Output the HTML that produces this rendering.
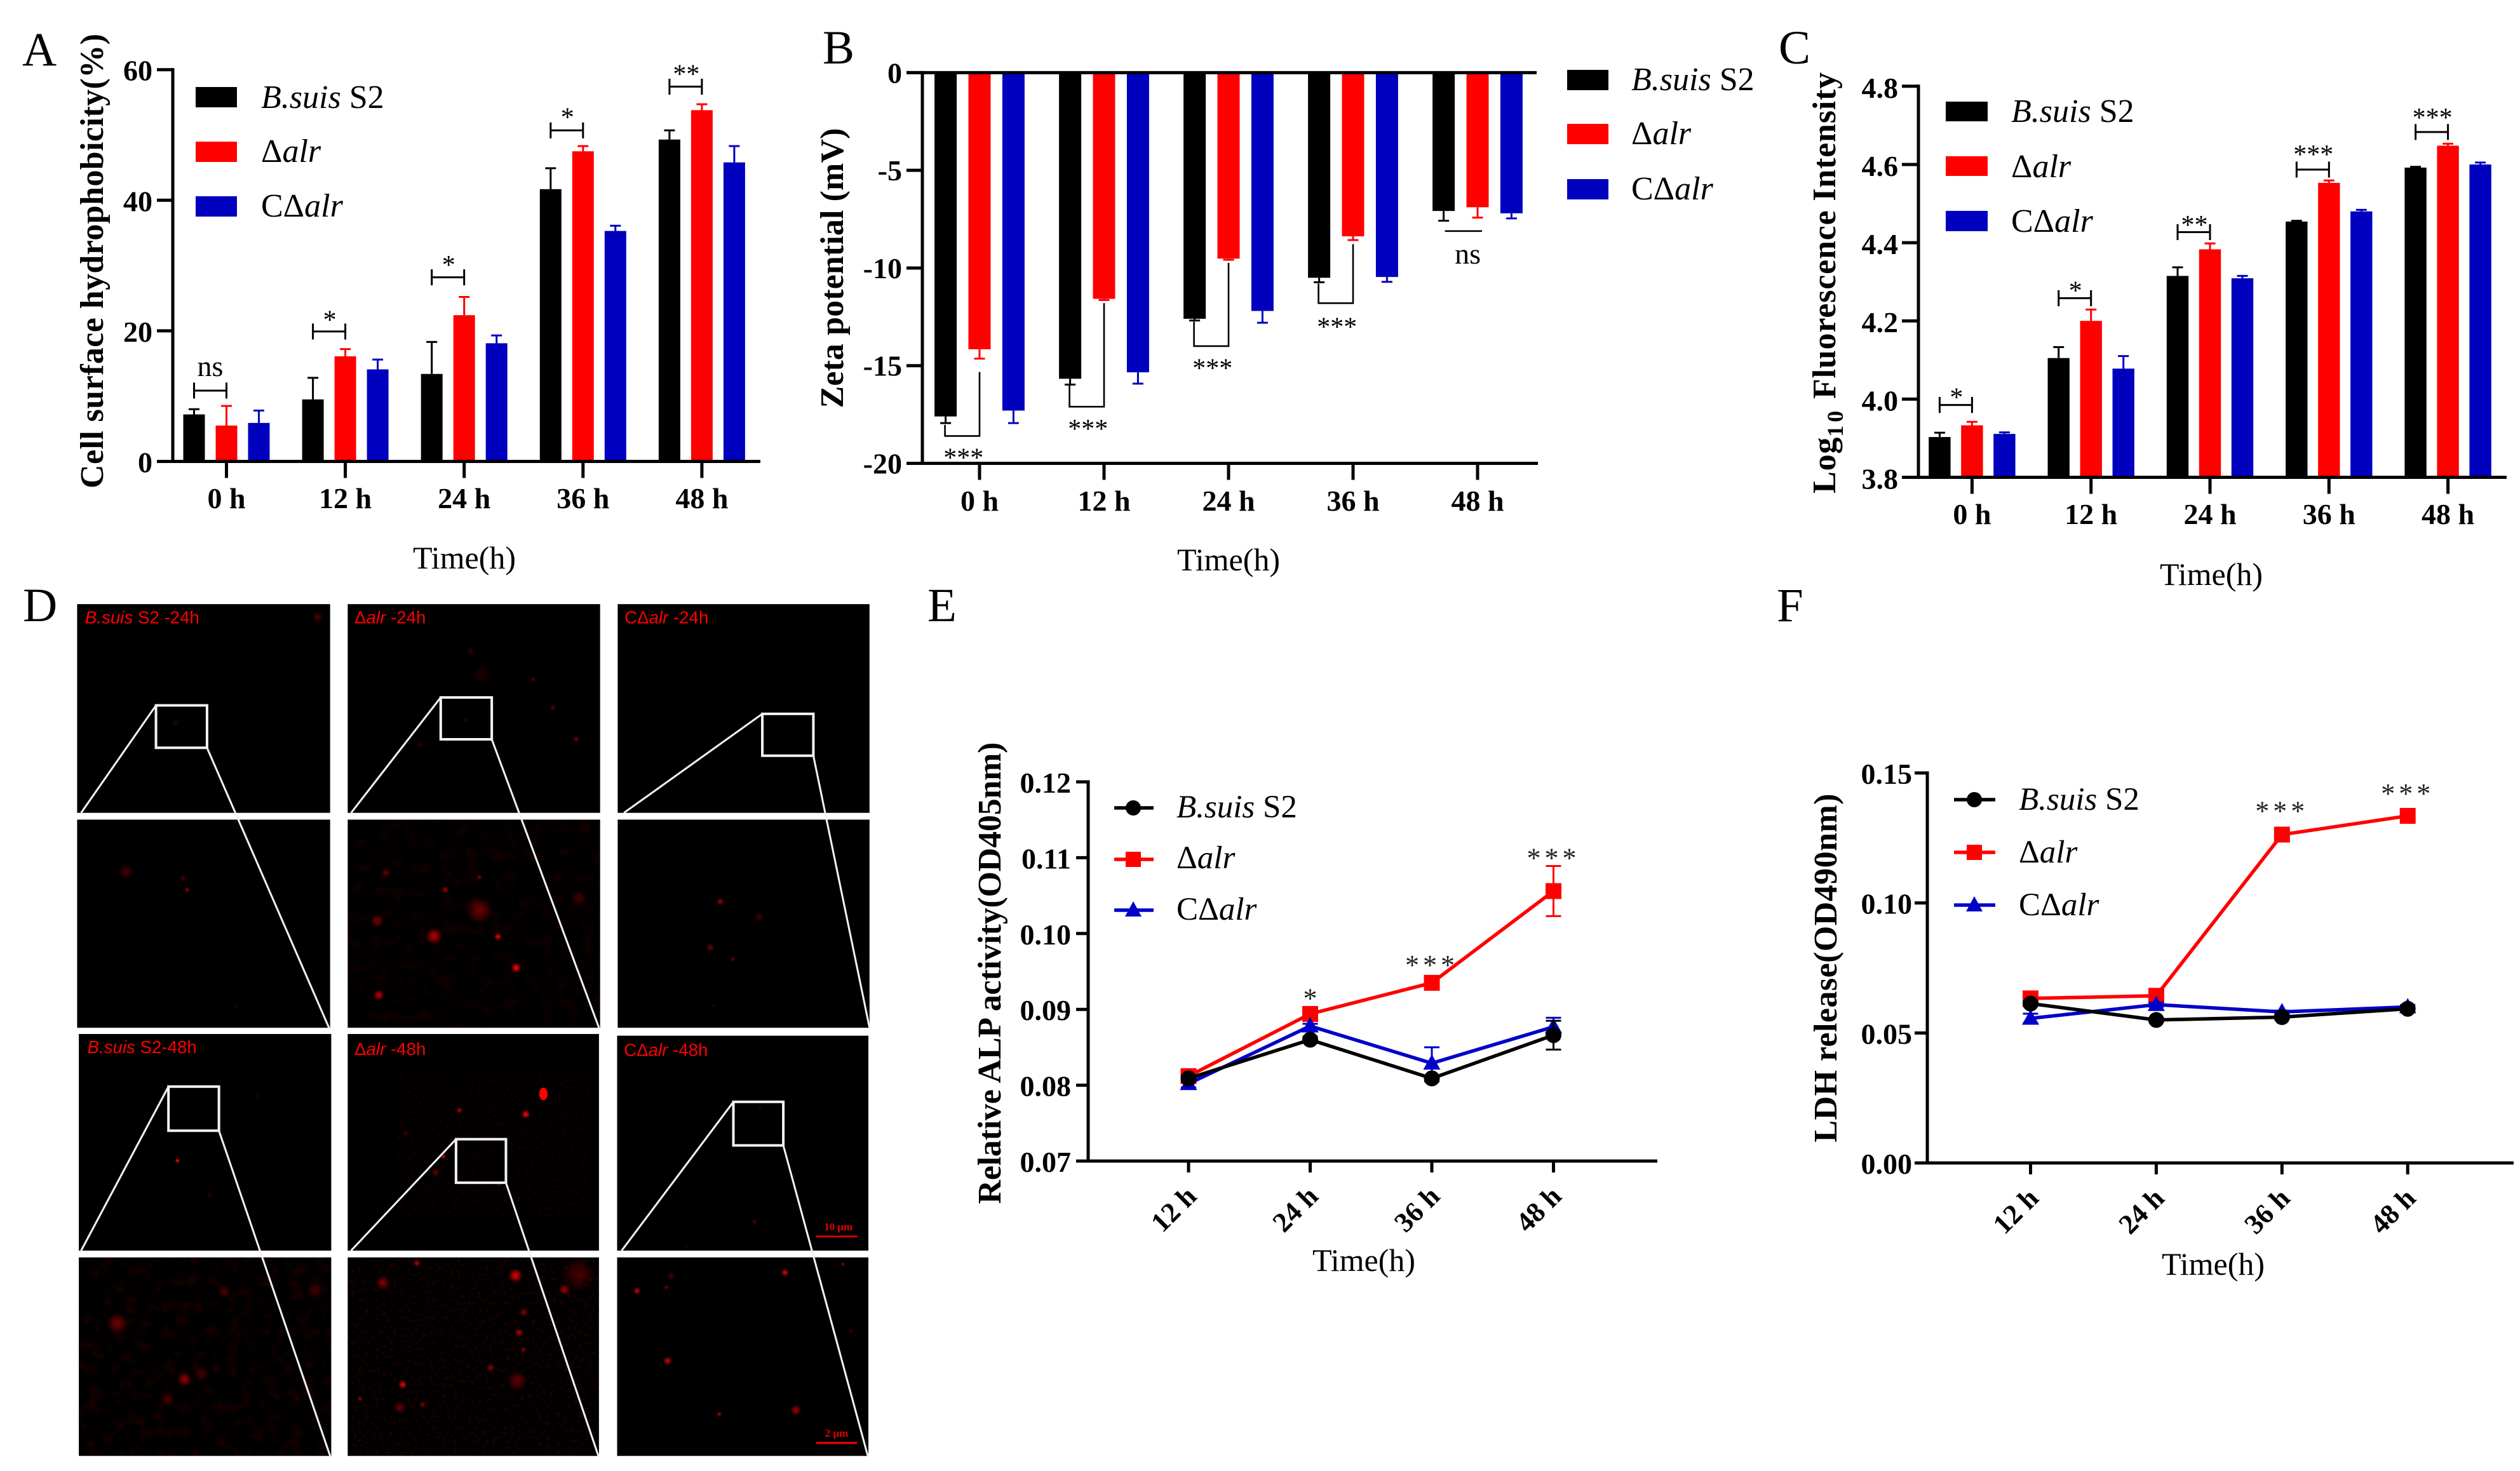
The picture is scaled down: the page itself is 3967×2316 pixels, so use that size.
<!DOCTYPE html>
<html lang="en">
<head>
<meta charset="utf-8">
<title>Multi-panel bacterial surface assays</title>
<style>
html,body{margin:0;padding:0;background:#fff;}
svg{display:block;font-family:"Liberation Serif",serif;}
text{fill:#000;}
.bt{font-weight:bold;}
</style>
</head>
<body>
<svg id="figure" width="3967" height="2316" viewBox="0 0 3967 2316">
<defs>
<radialGradient id="spotGlow">
<stop offset="0" stop-color="#ff0808" stop-opacity="1"/>
<stop offset="0.45" stop-color="#f00000" stop-opacity="0.7"/>
<stop offset="1" stop-color="#d00000" stop-opacity="0"/>
</radialGradient>
<filter id="speckleFine" x="0" y="0" width="100%" height="100%">
<feTurbulence type="fractalNoise" baseFrequency="0.16" numOctaves="2" seed="7"/>
<feColorMatrix type="matrix" values="0 0 0 0 0.85  0 0 0 0 0  0 0 0 0 0  3 0 0 0 -1.5"/>
</filter>
<filter id="speckleSoft" x="0" y="0" width="100%" height="100%">
<feTurbulence type="fractalNoise" baseFrequency="0.045" numOctaves="2" seed="11"/>
<feColorMatrix type="matrix" values="0 0 0 0 0.7  0 0 0 0 0  0 0 0 0 0  3 0 0 0 -1.4"/>
</filter>
</defs>
<rect width="3967" height="2316" fill="#fff"/>

<text x="35" y="103" font-size="75">A</text>
<text x="1295" y="100" font-size="75">B</text>
<text x="2800" y="100" font-size="75">C</text>
<text x="36" y="978" font-size="75">D</text>
<text x="1460" y="978" font-size="75">E</text>
<text x="2797" y="978" font-size="75">F</text>

<text class="bt" font-size="52" text-anchor="middle" textLength="716" transform="translate(162,411) rotate(-90)">Cell surface hydrophobicity(%)</text>
<text font-size="50" text-anchor="middle" x="731" y="895">Time(h)</text>
<text class="bt" font-size="52" text-anchor="middle" textLength="441" transform="translate(1327,422) rotate(-90)">Zeta potential (mV)</text>
<text font-size="50" text-anchor="middle" x="1934" y="898">Time(h)</text>
<text class="bt" font-size="52" text-anchor="middle" letter-spacing="0.8" transform="translate(2889,445) rotate(-90)">Log<tspan font-size="36" dy="12" letter-spacing="5">10</tspan><tspan dy="-12"> Fluorescence Intensity</tspan></text>
<text font-size="50" text-anchor="middle" x="3481" y="921">Time(h)</text>
<text class="bt" font-size="52" text-anchor="middle" textLength="727" transform="translate(1575,1532) rotate(-90)">Relative ALP activity(OD405nm)</text>
<text font-size="50" text-anchor="middle" x="2147" y="2001">Time(h)</text>
<text class="bt" font-size="52" text-anchor="middle" textLength="549" transform="translate(2891,1524) rotate(-90)">LDH release(OD490nm)</text>
<text font-size="50" text-anchor="middle" x="3484" y="2007">Time(h)</text>

<g font-size="52">
<rect x="308" y="137" width="65" height="32" fill="#000"/>
<rect x="308" y="223" width="65" height="32" fill="#f00"/>
<rect x="308" y="309" width="65" height="32" fill="#0000bf"/>
<text x="411" y="170"><tspan font-style="italic">B.suis</tspan> S2</text>
<text x="411" y="255">Δ<tspan font-style="italic">alr</tspan></text>
<text x="411" y="341">CΔ<tspan font-style="italic">alr</tspan></text>
</g>
<g font-size="52">
<rect x="2467" y="110" width="65" height="32" fill="#000"/>
<rect x="2467" y="195" width="65" height="32" fill="#f00"/>
<rect x="2467" y="282" width="65" height="32" fill="#0000bf"/>
<text x="2568" y="142"><tspan font-style="italic">B.suis</tspan> S2</text>
<text x="2568" y="227">Δ<tspan font-style="italic">alr</tspan></text>
<text x="2568" y="314">CΔ<tspan font-style="italic">alr</tspan></text>
</g>
<g font-size="52">
<rect x="3063" y="160" width="66" height="31" fill="#000"/>
<rect x="3063" y="246" width="66" height="31" fill="#f00"/>
<rect x="3063" y="332" width="66" height="32" fill="#0000bf"/>
<text x="3166" y="192"><tspan font-style="italic">B.suis</tspan> S2</text>
<text x="3166" y="279">Δ<tspan font-style="italic">alr</tspan></text>
<text x="3166" y="365">CΔ<tspan font-style="italic">alr</tspan></text>
</g>
<g font-size="51" stroke-width="5.5">
<line x1="1754" x2="1816" y1="1272" y2="1272" stroke="#000"/>
<circle cx="1784" cy="1272" r="12" fill="#000"/>
<line x1="1754" x2="1816" y1="1353" y2="1353" stroke="#f00"/>
<rect x="1772" y="1341" width="24" height="24" fill="#f00"/>
<line x1="1754" x2="1816" y1="1433" y2="1433" stroke="#0000c8"/>
<polygon points="1784,1419 1797,1443 1771,1443" fill="#0000c8"/>
<text x="1852" y="1287"><tspan font-style="italic">B.suis</tspan> S2</text>
<text x="1852" y="1367">Δ<tspan font-style="italic">alr</tspan></text>
<text x="1852" y="1448">CΔ<tspan font-style="italic">alr</tspan></text>
</g>
<g font-size="51" stroke-width="5.5">
<line x1="3076" x2="3141" y1="1259" y2="1259" stroke="#000"/>
<circle cx="3108" cy="1259" r="12" fill="#000"/>
<line x1="3076" x2="3141" y1="1342" y2="1342" stroke="#f00"/>
<rect x="3096" y="1330" width="24" height="24" fill="#f00"/>
<line x1="3076" x2="3141" y1="1425" y2="1425" stroke="#0000c8"/>
<polygon points="3108,1411 3121,1435 3095,1435" fill="#0000c8"/>
<text x="3178" y="1275"><tspan font-style="italic">B.suis</tspan> S2</text>
<text x="3178" y="1358">Δ<tspan font-style="italic">alr</tspan></text>
<text x="3178" y="1441">CΔ<tspan font-style="italic">alr</tspan></text>
</g>

<!-- Panel D drawn in a local coordinate frame -->
<g id="micrographs" transform="translate(0,920) scale(0.8929,0.8905)">
<rect x="136" y="35" width="446" height="369"/>
<rect x="613" y="35" width="445" height="369"/>
<rect x="1089" y="35" width="444" height="369"/>
<rect x="136" y="416" width="446" height="368"/>
<rect x="613" y="416" width="445" height="368"/>
<rect x="1089" y="416" width="444" height="368"/>
<rect x="139" y="795" width="445" height="383"/>
<rect x="613" y="795" width="443" height="383"/>
<rect x="1088" y="798" width="443" height="380"/>
<rect x="139" y="1190" width="445" height="351"/>
<rect x="613" y="1190" width="443" height="351"/>
<rect x="1088" y="1190" width="443" height="351"/>
<g>
<rect x="613" y="416" width="445" height="368" filter="url(#speckleSoft)" opacity="0.07"/>
<rect x="139" y="1190" width="445" height="351" filter="url(#speckleSoft)" opacity="0.1"/>
<rect x="613" y="1190" width="443" height="351" filter="url(#speckleFine)" opacity="0.14"/>
<rect x="700" y="860" width="340" height="260" filter="url(#speckleFine)" opacity="0.09"/>
</g>
<g id="spots" fill="url(#spotGlow)"></g>
<ellipse cx="958" cy="901" rx="7.5" ry="11" fill="#f00"/>
<g fill="none" stroke="#f2f2f2" stroke-width="3.4">
<path d="M275 214L143 404M365 289L580 784"/>
<path d="M777 200L619 404M867 274L1056 784"/>
<path d="M1344 229L1100 404M1434 303L1533 784"/>
<path d="M297 888L143 1178M386 966L582 1541"/>
<path d="M804 981L619 1178M892 1058L1055 1541"/>
<path d="M1293 915L1096 1178M1381 992L1530 1541"/>
<rect x="275" y="214" width="90" height="75" stroke-width="4.5"/>
<rect x="777" y="200" width="90" height="74" stroke-width="4.5"/>
<rect x="1344" y="229" width="90" height="74" stroke-width="4.5"/>
<rect x="297" y="888" width="89" height="78" stroke-width="4.5"/>
<rect x="804" y="981" width="88" height="77" stroke-width="4.5"/>
<rect x="1293" y="915" width="88" height="77" stroke-width="4.5"/>
</g>
<g font-family="'Liberation Sans',sans-serif" font-size="31">
<text x="150" y="69" style="fill:#f00"><tspan font-style="italic">B.suis</tspan> S2 -24h</text>
<text x="625" y="69" style="fill:#f00">Δ<tspan font-style="italic">alr</tspan> -24h</text>
<text x="1101" y="69" style="fill:#f00">CΔ<tspan font-style="italic">alr</tspan> -24h</text>
<text x="154" y="829" style="fill:#f00"><tspan font-style="italic">B.suis</tspan> S2-48h</text>
<text x="625" y="832" style="fill:#f00">Δ<tspan font-style="italic">alr</tspan> -48h</text>
<text x="1100" y="834" style="fill:#f00">CΔ<tspan font-style="italic">alr</tspan> -48h</text>
</g>
<text x="1478" y="1142" font-size="19" font-weight="bold" text-anchor="middle" style="fill:#e00000">10 μm</text>
<line x1="1438" x2="1512" y1="1153" y2="1153" stroke="#e00000" stroke-width="3"/>
<text x="1475" y="1507" font-size="19" font-weight="bold" text-anchor="middle" style="fill:#e00000">2 μm</text>
<line x1="1439" x2="1511" y1="1518" y2="1518" stroke="#e00000" stroke-width="4"/>
</g>

<g id="charts"></g>
</svg>

<script>
/* ---------- Panel A: cell surface hydrophobicity ---------- */
const timeLabels = ['0 h', '12 h', '24 h', '36 h', '48 h'];
const lineTimeLabels = ['12 h', '24 h', '36 h', '48 h'];
const hydroTicks = [0, 20, 40, 60];
const hydroTickLabels = ['0', '20', '40', '60'];
const hydroWild = [7.2, 9.5, 13.4, 41.7, 49.3];
const hydroWildErr = [0.8, 3.3, 4.9, 3.2, 1.4];
const hydroMutant = [5.5, 16.1, 22.4, 47.5, 53.8];
const hydroMutantErr = [3.0, 1.1, 2.8, 0.8, 0.9];
const hydroComp = [5.9, 14.1, 18.1, 35.3, 45.8];
const hydroCompErr = [1.9, 1.5, 1.2, 0.8, 2.5];
const hydroSigGroups = [0, 1, 2, 3, 4];
const hydroSigLevels = [10.85, 19.9, 28.2, 50.7, 57.4];
const hydroSigMarkY = [13.1, 22.3, 30.7, 53.3, 59.9];
const hydroSigMarks = ['ns', '*', '*', '*', '**'];

/* ---------- Panel B: zeta potential ---------- */
const zetaTicks = [0, -5, -10, -15, -20];
const zetaTickLabels = ['0', '-5', '-10', '-15', '-20'];
const zetaWild = [-17.6, -15.67, -12.6, -10.5, -7.08];
const zetaWildErr = [0.34, 0.3, 0.09, 0.23, 0.5];
const zetaMutant = [-14.16, -11.58, -9.52, -8.38, -6.89];
const zetaMutantErr = [0.48, 0.06, 0.06, 0.19, 0.53];
const zetaComp = [-17.3, -15.34, -12.2, -10.46, -7.2];
const zetaCompErr = [0.64, 0.58, 0.6, 0.25, 0.26];
const zetaSigBottom = [-18.6, -17.1, -14.0, -11.8];
const zetaSigLeftTop = [-18.03, -16.0, -12.75, -10.8];
const zetaSigRightTop = [-15.32, -11.8, -9.74, -8.78];
const zetaSigStarY = [-19.52, -18.03, -14.92, -12.82];
const zetaNsLine = -8.11;
const zetaNsLabelY = -9.77;

/* ---------- Panel C: fluorescence intensity ---------- */
const fluorTicks = [3.8, 4.0, 4.2, 4.4, 4.6, 4.8];
const fluorTickLabels = ['3.8', '4.0', '4.2', '4.4', '4.6', '4.8'];
const fluorWild = [3.903, 4.105, 4.315, 4.454, 4.592];
const fluorWildErr = [0.011, 0.028, 0.022, 0.002, 0.002];
const fluorMutant = [3.933, 4.2, 4.383, 4.553, 4.648];
const fluorMutantErr = [0.009, 0.029, 0.015, 0.006, 0.005];
const fluorComp = [3.911, 4.078, 4.309, 4.48, 4.6];
const fluorCompErr = [0.004, 0.032, 0.006, 0.004, 0.005];
const fluorSigGroups = [0, 1, 2, 3, 4];
const fluorSigLevels = [3.985, 4.258, 4.427, 4.587, 4.683];
const fluorSigMarkY = [4.014, 4.287, 4.455, 4.636, 4.73];
const fluorSigMarks = ['*', '*', '**', '***', '***'];

/* ---------- Panel E: ALP activity ---------- */
const alpTicks = [0.07, 0.08, 0.09, 0.10, 0.11, 0.12];
const alpTickLabels = ['0.07', '0.08', '0.09', '0.10', '0.11', '0.12'];
const alpWild = [0.0809, 0.0860, 0.0809, 0.0866];
const alpWildErr = [0.0004, 0.0004, 0.0004, 0.0019];
const alpMutant = [0.0812, 0.0894, 0.0935, 0.1056];
const alpMutantErr = [0.0003, 0.0003, 0.0003, 0.0033];
const alpComp = [0.0802, 0.0878, 0.0829, 0.0877];
const alpCompErr = [0.0005, 0.0003, 0.0021, 0.0012];
const alpSigGroups = [1, 2, 3];
const alpSigY = [0.092, 0.0964, 0.1105];
const alpSigMarks = ['*', '***', '***'];

/* ---------- Panel F: LDH release ---------- */
const ldhTicks = [0, 0.05, 0.10, 0.15];
const ldhTickLabels = ['0.00', '0.05', '0.10', '0.15'];
const ldhWild = [0.0613, 0.055, 0.0561, 0.0593];
const ldhWildErr = [0.001, 0.0008, 0.0008, 0.001];
const ldhMutant = [0.0633, 0.0643, 0.1263, 0.1335];
const ldhMutantErr = [0.0005, 0.0005, 0.0005, 0.0005];
const ldhComp = [0.0556, 0.0609, 0.0581, 0.06];
const ldhCompErr = [0.0018, 0.0008, 0.0005, 0.0008];
const ldhSigGroups = [2, 3];
const ldhSigY = [0.1369, 0.1437];
const ldhSigMarks = ['***', '***'];

const BLACK = '#000000', RED = '#ff0000', BLUE = '#0000bf', LINEBLUE = '#0000c8';
const figureRoot = document.getElementById('figure');
const chartsRoot = document.getElementById('charts');

function make(parent, tag, name, attrs, content) {
  const el = document.createElementNS(figureRoot.namespaceURI, tag);
  
  
  for (const key in attrs) el.setAttribute(key, attrs[key]);
  if (content !== undefined) el.textContent = content;
  parent.appendChild(el);
  return el;
}

function linearScale(domainLo, domainHi, pixelLo, pixelHi) {
  return function (v) { return pixelLo + (v - domainLo) / (domainHi - domainLo) * (pixelHi - pixelLo); };
}

function drawValueAxis(g, cfg) {
  const y = cfg.y;
  make(g, 'line', 'y-axis-line', {x1: cfg.axisX, x2: cfg.axisX, y1: y(cfg.yTop) - 2.5, y2: y(cfg.yBottom) + 2.5, stroke: '#000', 'stroke-width': 5});
  cfg.ticks.forEach(function (t, i) {
    make(g, 'line', 'y-tick', {x1: cfg.axisLeft, x2: cfg.axisX, y1: y(t), y2: y(t), stroke: '#000', 'stroke-width': 5});
    make(g, 'text', 'y-tick-label', {x: cfg.labelEnd, y: y(t) + cfg.labelDy, 'font-size': 46, 'font-weight': 'bold', 'text-anchor': 'end'}, cfg.tickLabels[i]);
  });
}

function drawCategoryAxis(g, cfg) {
  const axisY = cfg.y(cfg.yBottom);
  make(g, 'line', 'x-axis-line', {x1: cfg.axisLeft, x2: cfg.axisRight, y1: axisY, y2: axisY, stroke: '#000', 'stroke-width': 5});
  cfg.categories.forEach(function (c, i) {
    const x = cfg.x(i);
    make(g, 'line', 'x-tick', {x1: x, x2: x, y1: axisY, y2: axisY + cfg.tickLen, stroke: '#000', 'stroke-width': 5});
    if (cfg.rotated) {
      const tx = x + 15, ty = axisY + 58;
      make(g, 'text', 'x-tick-label', {x: tx, y: ty, 'font-size': 44, 'font-weight': 'bold', 'text-anchor': 'end', transform: 'rotate(-45 ' + tx + ' ' + ty + ')'}, c);
    } else {
      make(g, 'text', 'x-tick-label', {x: x, y: cfg.catBaseline, 'font-size': 46, 'font-weight': 'bold', 'text-anchor': 'middle'}, c);
    }
  });
}

function drawErrorBar(g, name, x, yFrom, yTo, color, cap, width) {
  make(g, 'line', name + '-error', {x1: x, x2: x, y1: yFrom, y2: yTo, stroke: color, 'stroke-width': width});
  make(g, 'line', name + '-error-cap', {x1: x - cap, x2: x + cap, y1: yTo, y2: yTo, stroke: color, 'stroke-width': width});
}

function drawBarPanel(panel, cfg) {
  const g = make(chartsRoot, 'g', 'chart-' + panel, {});
  const y = cfg.y, base = y(cfg.baseline);
  cfg.series.forEach(function (s, si) {
    s.values.forEach(function (v, i) {
      const cx = cfg.barCenter(i, si);
      const dir = v >= cfg.baseline ? 1 : -1;
      drawErrorBar(g, 'bar-' + s.key, cx, y(v), y(v + dir * s.errors[i]), s.color, 8.5, 3);
      const top = Math.min(base, y(v)), h = Math.abs(base - y(v));
      make(g, 'rect', 'bar-' + s.key + '-' + cfg.categories[i].replace(' ', ''), {x: cx - cfg.barWidth / 2, y: top, width: cfg.barWidth, height: h, fill: s.color});
    });
  });
  drawValueAxis(g, cfg);
  drawCategoryAxis(g, cfg);
  return g;
}

function drawSigBrackets(g, cfg, groups, levels, markY, marks) {
  groups.forEach(function (grp, i) {
    const x1 = cfg.barCenter(grp, 0), x2 = cfg.barCenter(grp, 1), yy = cfg.y(levels[i]);
    make(g, 'path', 'significance-bracket', {d: 'M' + x1 + ' ' + (yy - 12.6) + 'V' + (yy + 12.6) + 'M' + x1 + ' ' + yy + 'H' + x2 + 'M' + x2 + ' ' + (yy - 12.6) + 'V' + (yy + 12.6), fill: 'none', stroke: '#000', 'stroke-width': 3});
    const isNs = marks[i] === 'ns';
    make(g, 'text', 'significance-mark', {x: (x1 + x2) / 2 + (isNs ? 0 : 1), y: cfg.y(markY[i]) + (isNs ? 0 : 20), 'font-size': isNs ? 46 : 42, 'text-anchor': 'middle'}, marks[i]);
  });
}

/* Panel A */
const cfgA = {
  categories: timeLabels, ticks: hydroTicks, tickLabels: hydroTickLabels,
  x: function (i) { return 356.5 + i * 187.1; },
  barCenter: function (i, s) { return 356.5 + i * 187.1 + (s - 1) * 51; },
  y: linearScale(0, 60, 726.5, 109.7),
  yTop: 60, yBottom: 0, baseline: 0, barWidth: 34,
  axisX: 272, axisLeft: 247, axisRight: 1197, labelEnd: 240, labelDy: 17, tickLen: 26, catBaseline: 800,
  series: [
    {key: 'wild-type', color: BLACK, values: hydroWild, errors: hydroWildErr},
    {key: 'mutant', color: RED, values: hydroMutant, errors: hydroMutantErr},
    {key: 'complemented', color: BLUE, values: hydroComp, errors: hydroCompErr}
  ]
};
const gA = drawBarPanel('a', cfgA);
drawSigBrackets(gA, cfgA, hydroSigGroups, hydroSigLevels, hydroSigMarkY, hydroSigMarks);

/* Panel B */
const cfgB = {
  categories: timeLabels, ticks: zetaTicks, tickLabels: zetaTickLabels,
  x: function (i) { return 1542 + i * 196; },
  barCenter: function (i, s) { return 1542 + i * 196 + (s - 1) * 53.4; },
  y: linearScale(0, -20, 114.4, 729.5),
  yTop: 0, yBottom: -20, baseline: 0, barWidth: 35,
  axisX: 1452, axisLeft: 1427, axisRight: 2421, labelEnd: 1420, labelDy: 16, tickLen: 26, catBaseline: 804,
  series: [
    {key: 'wild-type', color: BLACK, values: zetaWild, errors: zetaWildErr},
    {key: 'mutant', color: RED, values: zetaMutant, errors: zetaMutantErr},
    {key: 'complemented', color: BLUE, values: zetaComp, errors: zetaCompErr}
  ]
};
const gB = drawBarPanel('b', cfgB);
make(gB, 'line', 'zero-line', {x1: cfgB.axisLeft, x2: 2419, y1: cfgB.y(0), y2: cfgB.y(0), stroke: '#000', 'stroke-width': 5});
zetaSigBottom.forEach(function (bottom, i) {
  const x1 = cfgB.barCenter(i, 0) - 1, x2 = cfgB.barCenter(i, 1);
  make(gB, 'path', 'significance-bracket', {d: 'M' + x1 + ' ' + cfgB.y(zetaSigLeftTop[i]) + 'V' + cfgB.y(bottom) + 'H' + x2 + 'V' + cfgB.y(zetaSigRightTop[i]), fill: 'none', stroke: '#000', 'stroke-width': 2.6});
  make(gB, 'text', 'significance-mark', {x: (x1 + x2) / 2 + 2, y: cfgB.y(zetaSigStarY[i]) + 20, 'font-size': 42, 'text-anchor': 'middle'}, '***');
});
make(gB, 'line', 'significance-line-ns', {x1: cfgB.barCenter(4, 0) + 2, x2: cfgB.barCenter(4, 1) + 7, y1: cfgB.y(zetaNsLine), y2: cfgB.y(zetaNsLine), stroke: '#000', 'stroke-width': 2.6});
make(gB, 'text', 'significance-mark', {x: cfgB.barCenter(4, 0) + 38, y: cfgB.y(zetaNsLabelY), 'font-size': 46, 'text-anchor': 'middle'}, 'ns');

/* Panel C */
const cfgC = {
  categories: timeLabels, ticks: fluorTicks, tickLabels: fluorTickLabels,
  x: function (i) { return 3104.4 + i * 187.3; },
  barCenter: function (i, s) { return 3104.4 + i * 187.3 + (s - 1) * 51; },
  y: linearScale(3.8, 4.8, 751.5, 135.8),
  yTop: 4.8, yBottom: 3.8, baseline: 3.8, barWidth: 34.4,
  axisX: 3020, axisLeft: 2994, axisRight: 3946, labelEnd: 2988, labelDy: 18, tickLen: 26, catBaseline: 825,
  series: [
    {key: 'wild-type', color: BLACK, values: fluorWild, errors: fluorWildErr},
    {key: 'mutant', color: RED, values: fluorMutant, errors: fluorMutantErr},
    {key: 'complemented', color: BLUE, values: fluorComp, errors: fluorCompErr}
  ]
};
const gC = drawBarPanel('c', cfgC);
drawSigBrackets(gC, cfgC, fluorSigGroups, fluorSigLevels, fluorSigMarkY, fluorSigMarks);

/* Line panels */
function drawMarker(g, kind, x, y, color) {
  if (kind === 'circle') {
    make(g, 'circle', 'point-wild-type', {cx: x, cy: y, r: 12.5, fill: color});
  } else if (kind === 'square') {
    make(g, 'rect', 'point-mutant', {x: x - 12.5, y: y - 12.5, width: 25, height: 25, fill: color});
  } else {
    make(g, 'polygon', 'point-complemented', {points: x + ',' + (y - 14) + ' ' + (x + 13.5) + ',' + (y + 10) + ' ' + (x - 13.5) + ',' + (y + 10), fill: color});
  }
}

function drawLinePanel(panel, cfg) {
  const g = make(chartsRoot, 'g', 'chart-' + panel, {});
  drawValueAxis(g, cfg);
  drawCategoryAxis(g, cfg);
  cfg.series.forEach(function (s) {
    const d = s.values.map(function (v, i) { return (i ? 'L' : 'M') + cfg.x(i) + ' ' + cfg.y(v); }).join('');
    make(g, 'path', 'line-' + s.key, {d: d, fill: 'none', stroke: s.color, 'stroke-width': 5.5});
    s.values.forEach(function (v, i) {
      drawErrorBar(g, 'point-' + s.key + '-upper', cfg.x(i), cfg.y(v), cfg.y(v + s.errors[i]), s.color, 12, 3);
      drawErrorBar(g, 'point-' + s.key + '-lower', cfg.x(i), cfg.y(v), cfg.y(v - s.errors[i]), s.color, 12, 3);
      drawMarker(g, s.marker, cfg.x(i), cfg.y(v), s.color);
    });
  });
  return g;
}

function drawStars(g, cfg, groups, ys, marks) {
  groups.forEach(function (grp, i) {
    make(g, 'text', 'significance-mark', {x: cfg.x(grp), y: cfg.y(ys[i]) + 21, 'font-size': 44, 'letter-spacing': marks[i].length > 1 ? 6 : 0, 'text-anchor': 'middle', style: 'fill:#222'}, marks[i]);
  });
}

const cfgE = {
  categories: lineTimeLabels, ticks: alpTicks, tickLabels: alpTickLabels, rotated: true,
  x: function (i) { return 1871 + i * 191.5; },
  y: linearScale(0.07, 0.12, 1828, 1231),
  yTop: 0.12, yBottom: 0.07,
  axisX: 1713, axisLeft: 1694, axisRight: 2609, labelEnd: 1686, labelDy: 17, tickLen: 18,
  series: [
    {key: 'mutant', color: RED, marker: 'square', values: alpMutant, errors: alpMutantErr},
    {key: 'complemented', color: LINEBLUE, marker: 'triangle', values: alpComp, errors: alpCompErr},
    {key: 'wild-type', color: BLACK, marker: 'circle', values: alpWild, errors: alpWildErr}
  ]
};
const gE = drawLinePanel('e', cfgE);
drawStars(gE, cfgE, alpSigGroups, alpSigY, alpSigMarks);

const cfgF = {
  categories: lineTimeLabels, ticks: ldhTicks, tickLabels: ldhTickLabels, rotated: true,
  x: function (i) { return 3196.5 + i * 197.9; },
  y: linearScale(0, 0.15, 1831, 1217),
  yTop: 0.15, yBottom: 0,
  axisX: 3034, axisLeft: 3014, axisRight: 3957, labelEnd: 3010, labelDy: 17, tickLen: 18,
  series: [
    {key: 'mutant', color: RED, marker: 'square', values: ldhMutant, errors: ldhMutantErr},
    {key: 'complemented', color: LINEBLUE, marker: 'triangle', values: ldhComp, errors: ldhCompErr},
    {key: 'wild-type', color: BLACK, marker: 'circle', values: ldhWild, errors: ldhWildErr}
  ]
};
const gF = drawLinePanel('f', cfgF);
drawStars(gF, cfgF, ldhSigGroups, ldhSigY, ldhSigMarks);

/* Panel D fluorescence spots: [x, y, radius, opacity] */
const spotList = [
  [560,58,10,.3],[310,245,7,.15],
  [222,508,14,.25],[322,520,6,.3],[330,540,5,.6],[417,745,6,.12],
  [940,168,5,.35],[975,218,6,.35],[1016,274,6,.45],[830,118,8,.18],[850,160,18,.12],[820,240,5,.18],[740,283,6,.18],
  [665,595,12,.45],[765,622,15,.7],[878,623,7,.9],[910,678,9,1],[668,726,10,.75],[785,540,7,.6],[845,577,24,.4],[845,518,5,.5],[1020,555,15,.25],[680,510,8,.35],
  [1270,561,7,.6],[1338,588,9,.25],[1252,642,8,.4],[1292,663,5,.4],[1258,745,3,.25],
  [313,1019,5,1],[455,905,6,.12],[370,1080,6,.18],
  [207,1307,20,.4],[325,1405,13,.55],[355,1395,15,.25],[295,1440,14,.25],[395,1250,12,.25],[555,1248,15,.25],
  [927,937,8,1],[810,930,6,.7],[782,1012,5,.8],[768,1040,8,.35],[880,1060,5,.35],[715,970,6,.25],
  [909,1222,13,.85],[675,1235,13,.5],[735,1200,7,.7],[995,1247,10,.6],[923,1287,8,.5],[915,1323,8,.7],[923,1353,5,.6],[865,1385,8,.5],[710,1415,8,.9],[912,1408,18,.35],[745,1450,6,.5],[705,1455,12,.35],[635,1440,5,.6],[1020,1220,30,.25],
  [1330,1127,5,.35],[1340,925,5,.12],[1210,1170,3,.25],
  [1123,1249,7,.8],[1175,1243,5,.45],[1183,1223,8,.25],[1384,1217,7,.9],[1486,1202,4,.6],[1177,1373,8,.8],[1403,1460,10,.6],[1268,1467,5,.7],[1500,1320,5,.25]
];
const spotsGroup = document.getElementById('spots');
spotList.forEach(function (s) {
  make(spotsGroup, 'circle', 'fluorescence-spot', {cx: s[0], cy: s[1], r: s[2], opacity: s[3]});
});
</script>
</body>
</html>
